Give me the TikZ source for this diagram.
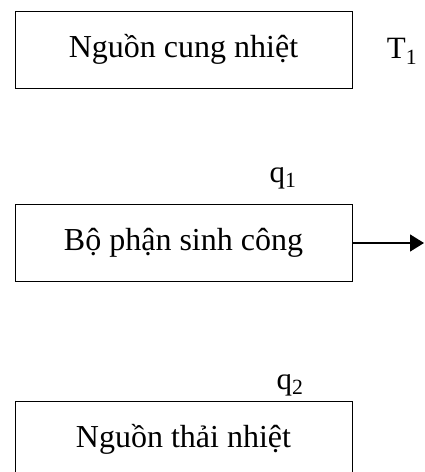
\documentclass[tikz,border=0pt]{standalone}
\usepackage{fontspec}
\setmainfont{Liberation Serif}
\usetikzlibrary{positioning,arrows.meta}
\begin{document}
\begin{tikzpicture}[x=1pt, y=-1pt,
  khoi/.style={draw, line width=1pt, minimum width=337pt, minimum height=77pt, inner sep=0pt, font=\fontsize{32}{38}\selectfont},
  nhan/.style={inner sep=0pt, font=\fontsize{31}{38}\selectfont},
  arr/.style={-{Triangle[length=14pt, width=17pt]}, line width=1.5pt}]
\useasboundingbox (0,0) rectangle (425,472);
\node[khoi] (cung) at (183.5,49.5)  {Nguồn cung nhiệt};
\node[khoi] (sinh) at (183.5,243)   {Bộ phận sinh công};
\node[khoi] (thai) at (183.5,439.5) {Nguồn thải nhiệt};
\node[nhan] (t1) at (402,51)  {T\textsubscript{1}};
\node[nhan] (q1) at (283,178) {q\textsubscript{1}};
\node[nhan] (q2) at (290,385) {q\textsubscript{2}};
\coordinate (ra) at (424,243);
\draw[arr] (sinh) -- (ra);
\end{tikzpicture}
\end{document}
